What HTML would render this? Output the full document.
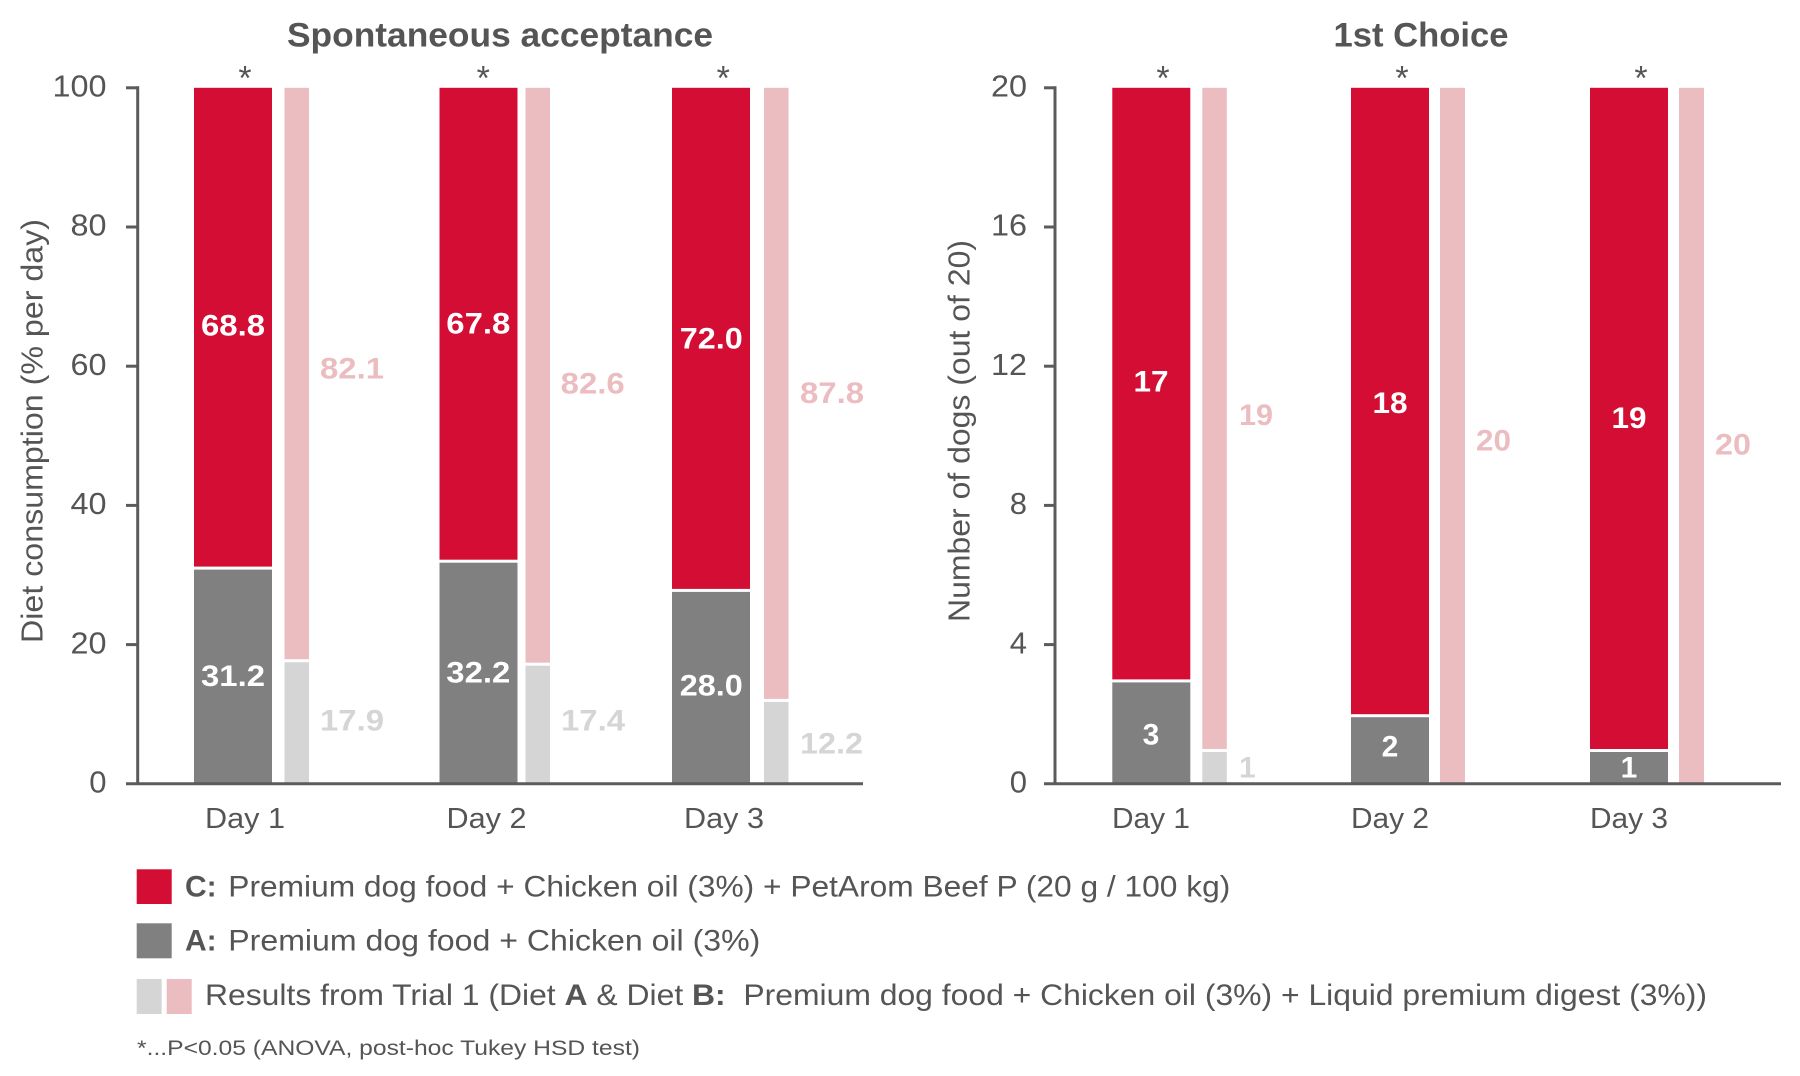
<!DOCTYPE html>
<html><head><meta charset="utf-8"><style>
html,body{margin:0;padding:0;background:#fff;}
svg{display:block;}
text{font-family:"Liberation Sans",Arial,sans-serif;}
</style></head><body>
<svg width="1800" height="1076" viewBox="0 0 1800 1076" xmlns="http://www.w3.org/2000/svg">
<rect width="1800" height="1076" fill="#fff"/>

<!-- Titles -->
<text x="500" y="46.5" font-size="34" font-weight="bold" fill="#555" text-anchor="middle" textLength="426" lengthAdjust="spacingAndGlyphs">Spontaneous acceptance</text>
<text x="1421" y="46.5" font-size="34" font-weight="bold" fill="#555" text-anchor="middle" textLength="175" lengthAdjust="spacingAndGlyphs">1st Choice</text>

<!-- Y titles -->
<text transform="translate(42.7,431) rotate(-90)" font-size="31" fill="#555" text-anchor="middle" textLength="424" lengthAdjust="spacingAndGlyphs">Diet consumption (% per day)</text>
<text transform="translate(969.3,431) rotate(-90)" font-size="31" fill="#555" text-anchor="middle" textLength="382" lengthAdjust="spacingAndGlyphs">Number of dogs (out of 20)</text>

<!-- LEFT BARS -->
<g>
<rect x="194" y="87.8" width="78" height="478.8" fill="#d30d33"/>
<rect x="194" y="569.6" width="78" height="214.2" fill="#808080"/>
<rect x="284.5" y="87.8" width="24.5" height="571.4" fill="#ebbdc0"/>
<rect x="284.5" y="662.2" width="24.5" height="121.6" fill="#d5d5d5"/>

<rect x="439.5" y="87.8" width="78" height="471.9" fill="#d30d33"/>
<rect x="439.5" y="562.7" width="78" height="221.1" fill="#808080"/>
<rect x="525.5" y="87.8" width="24.5" height="574.9" fill="#ebbdc0"/>
<rect x="525.5" y="665.7" width="24.5" height="118.1" fill="#d5d5d5"/>

<rect x="672" y="87.8" width="78" height="501.1" fill="#d30d33"/>
<rect x="672" y="591.9" width="78" height="191.9" fill="#808080"/>
<rect x="764" y="87.8" width="24.5" height="611.1" fill="#ebbdc0"/>
<rect x="764" y="701.9" width="24.5" height="81.9" fill="#d5d5d5"/>
</g>

<!-- RIGHT BARS -->
<g>
<rect x="1112.3" y="87.8" width="78" height="591.6" fill="#d30d33"/>
<rect x="1112.3" y="682.4" width="78" height="101.4" fill="#808080"/>
<rect x="1202.3" y="87.8" width="24.5" height="661.2" fill="#ebbdc0"/>
<rect x="1202.3" y="752" width="24.5" height="31.8" fill="#d5d5d5"/>

<rect x="1351" y="87.8" width="78" height="626.4" fill="#d30d33"/>
<rect x="1351" y="717.2" width="78" height="66.6" fill="#808080"/>
<rect x="1440" y="87.8" width="25" height="696" fill="#ebbdc0"/>

<rect x="1590" y="87.8" width="78" height="661.2" fill="#d30d33"/>
<rect x="1590" y="752" width="78" height="31.8" fill="#808080"/>
<rect x="1679" y="87.8" width="25" height="696" fill="#ebbdc0"/>
</g>

<!-- AXES LEFT -->
<g stroke="#5b5b5b" stroke-width="3" fill="none">
<line x1="137.7" y1="86.3" x2="137.7" y2="785"/>
<line x1="126" y1="783.8" x2="863" y2="783.8"/>
<line x1="126" y1="87.8" x2="137.7" y2="87.8"/>
<line x1="126" y1="227" x2="137.7" y2="227"/>
<line x1="126" y1="366.2" x2="137.7" y2="366.2"/>
<line x1="126" y1="505.4" x2="137.7" y2="505.4"/>
<line x1="126" y1="644.6" x2="137.7" y2="644.6"/>
</g>
<!-- AXES RIGHT -->
<g stroke="#5b5b5b" stroke-width="3" fill="none">
<line x1="1055" y1="86.3" x2="1055" y2="785"/>
<line x1="1044" y1="783.8" x2="1781" y2="783.8"/>
<line x1="1044" y1="87.8" x2="1055" y2="87.8"/>
<line x1="1044" y1="227" x2="1055" y2="227"/>
<line x1="1044" y1="366.2" x2="1055" y2="366.2"/>
<line x1="1044" y1="505.4" x2="1055" y2="505.4"/>
<line x1="1044" y1="644.6" x2="1055" y2="644.6"/>
</g>

<!-- Tick labels -->
<g font-size="31" fill="#555" text-anchor="end">
<text x="106.5" y="96.5" textLength="54" lengthAdjust="spacingAndGlyphs">100</text>
<text x="106.5" y="235.7" textLength="36" lengthAdjust="spacingAndGlyphs">80</text>
<text x="106.5" y="374.9" textLength="36" lengthAdjust="spacingAndGlyphs">60</text>
<text x="106.5" y="514.1" textLength="36" lengthAdjust="spacingAndGlyphs">40</text>
<text x="106.5" y="653.3" textLength="36" lengthAdjust="spacingAndGlyphs">20</text>
<text x="106.5" y="792.5">0</text>
<text x="1027" y="96.5" textLength="36" lengthAdjust="spacingAndGlyphs">20</text>
<text x="1027" y="235.7" textLength="36" lengthAdjust="spacingAndGlyphs">16</text>
<text x="1027" y="374.9" textLength="36" lengthAdjust="spacingAndGlyphs">12</text>
<text x="1027" y="514.1">8</text>
<text x="1027" y="653.3">4</text>
<text x="1027" y="792.5">0</text>
</g>

<!-- Stars -->
<g font-size="34" fill="#555" text-anchor="middle">
<text x="245" y="89.5">*</text>
<text x="483.3" y="89.5">*</text>
<text x="723.3" y="89.5">*</text>
<text x="1163" y="89.5">*</text>
<text x="1402" y="89.5">*</text>
<text x="1641" y="89.5">*</text>
</g>

<!-- Day labels -->
<g font-size="29" fill="#555" text-anchor="middle">
<text x="245" y="828" textLength="80" lengthAdjust="spacingAndGlyphs">Day 1</text>
<text x="486.5" y="828" textLength="80" lengthAdjust="spacingAndGlyphs">Day 2</text>
<text x="724" y="828" textLength="80" lengthAdjust="spacingAndGlyphs">Day 3</text>
<text x="1151" y="828" textLength="78" lengthAdjust="spacingAndGlyphs">Day 1</text>
<text x="1390" y="828" textLength="78" lengthAdjust="spacingAndGlyphs">Day 2</text>
<text x="1629" y="828" textLength="78" lengthAdjust="spacingAndGlyphs">Day 3</text>
</g>

<!-- Value labels left -->
<g font-size="30" font-weight="bold">
<text x="233" y="335.5" fill="#fff" text-anchor="middle" textLength="64" lengthAdjust="spacingAndGlyphs">68.8</text>
<text x="233" y="686" fill="#fff" text-anchor="middle" textLength="64" lengthAdjust="spacingAndGlyphs">31.2</text>
<text x="320" y="378.3" fill="#ebbdc0" textLength="64" lengthAdjust="spacingAndGlyphs">82.1</text>
<text x="320" y="730.5" fill="#d5d5d5" textLength="64" lengthAdjust="spacingAndGlyphs">17.9</text>

<text x="478.3" y="333.3" fill="#fff" text-anchor="middle" textLength="64" lengthAdjust="spacingAndGlyphs">67.8</text>
<text x="478.3" y="682.3" fill="#fff" text-anchor="middle" textLength="64" lengthAdjust="spacingAndGlyphs">32.2</text>
<text x="560.7" y="393.3" fill="#ebbdc0" textLength="64" lengthAdjust="spacingAndGlyphs">82.6</text>
<text x="561" y="730.5" fill="#d5d5d5" textLength="64" lengthAdjust="spacingAndGlyphs">17.4</text>

<text x="711.3" y="348.3" fill="#fff" text-anchor="middle" textLength="63" lengthAdjust="spacingAndGlyphs">72.0</text>
<text x="711.3" y="695.5" fill="#fff" text-anchor="middle" textLength="63" lengthAdjust="spacingAndGlyphs">28.0</text>
<text x="800" y="403" fill="#ebbdc0" textLength="64" lengthAdjust="spacingAndGlyphs">87.8</text>
<text x="800" y="753.7" fill="#d5d5d5" textLength="63" lengthAdjust="spacingAndGlyphs">12.2</text>
</g>

<!-- Value labels right -->
<g font-size="30" font-weight="bold">
<text x="1151" y="391.7" fill="#fff" text-anchor="middle" textLength="35" lengthAdjust="spacingAndGlyphs">17</text>
<text x="1151" y="744.4" fill="#fff" text-anchor="middle">3</text>
<text x="1239" y="425" fill="#ebbdc0" textLength="34" lengthAdjust="spacingAndGlyphs">19</text>
<text x="1239" y="777.6" fill="#d5d5d5">1</text>

<text x="1390" y="413" fill="#fff" text-anchor="middle" textLength="35" lengthAdjust="spacingAndGlyphs">18</text>
<text x="1390" y="756.4" fill="#fff" text-anchor="middle">2</text>
<text x="1476" y="450.4" fill="#ebbdc0" textLength="35" lengthAdjust="spacingAndGlyphs">20</text>

<text x="1629" y="428" fill="#fff" text-anchor="middle" textLength="35" lengthAdjust="spacingAndGlyphs">19</text>
<text x="1629" y="777.6" fill="#fff" text-anchor="middle">1</text>
<text x="1715" y="454.5" fill="#ebbdc0" textLength="36" lengthAdjust="spacingAndGlyphs">20</text>
</g>

<!-- Legend -->
<rect x="136.7" y="869.3" width="35" height="34.7" fill="#d30d33"/>
<rect x="136.7" y="923.3" width="35" height="35" fill="#808080"/>
<rect x="136.7" y="979" width="25" height="35" fill="#d5d5d5"/>
<rect x="166.7" y="979" width="25" height="35" fill="#ebbdc0"/>

<g font-size="30" fill="#555">
<text x="185" y="896.7" font-weight="bold">C:</text>
<text x="228.3" y="896.7" textLength="1002" lengthAdjust="spacingAndGlyphs">Premium dog food + Chicken oil (3%) + PetArom Beef P (20 g / 100 kg)</text>
<text x="185" y="950.5" font-weight="bold">A:</text>
<text x="228.3" y="950.5" textLength="532" lengthAdjust="spacingAndGlyphs">Premium dog food + Chicken oil (3%)</text>
<text x="205" y="1005" textLength="1502" lengthAdjust="spacingAndGlyphs" xml:space="preserve">Results from Trial 1 (Diet <tspan font-weight="bold">A</tspan> &amp; Diet <tspan font-weight="bold">B:</tspan>  Premium dog food + Chicken oil (3%) + Liquid premium digest (3%))</text>
</g>
<text x="137" y="1055" font-size="21" fill="#555" textLength="503" lengthAdjust="spacingAndGlyphs">*...P&lt;0.05 (ANOVA, post-hoc Tukey HSD test)</text>
</svg>
</body></html>
